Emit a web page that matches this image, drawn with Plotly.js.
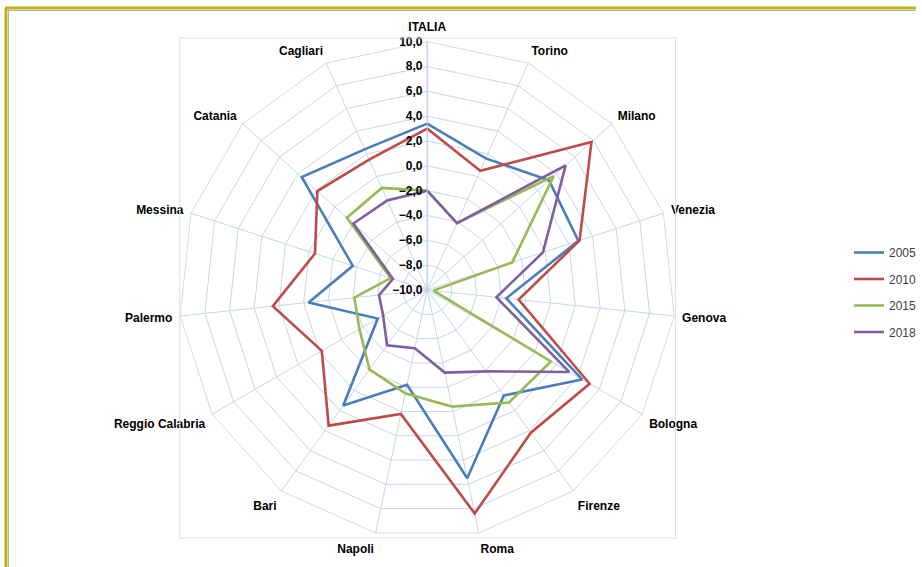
<!DOCTYPE html>
<html>
<head>
<meta charset="utf-8">
<script src="https://cdn.plot.ly/plotly-3.0.1.min.js"></script>
<style>
html,body{margin:0;padding:0;background:#fff;}
#chart{width:922px;height:567px;}
</style>
</head>
<body>
<div id="chart"></div>
<script>
const categories = ['ITALIA','Torino','Milano','Venezia','Genova','Bologna','Firenze','Roma','Napoli','Bari','Reggio Calabria','Palermo','Messina','Catania','Cagliari'];
const seriesNames = ['2005','2010','2015','2018'];
const v2005 = [3.4, 1.6, 3.2, 2.8, -3.6, 4.4, 0.5, 5.5, -2.2, 1.5, -5.4, -0.4, -3.7, 3.6, 2.4];
const v2010 = [3.0, 0.5, 7.8, 2.9, -2.6, 5.1, 4.2, 8.4, 0.2, 3.5, -0.2, 2.5, -0.5, 1.9, 1.5];
const v2015 = [-2.0, -4.1, 3.7, -2.8, -9.5, 1.5, 1.2, -0.4, -1.5, -2.1, -3.7, -4.1, -6.9, -1.3, -1.0];
const v2018 = [-2.0, -4.1, 5.0, -0.2, -4.4, 3.2, -1.9, -3.2, -5.2, -4.5, -5.9, -6.1, -7.1, -2.0, -2.1];
const radialTicks = [-10, -8, -6, -4, -2, 0, 2, 4, 6, 8, 10];

const colors = ['#4a7ebb', '#be4b48', '#98b954', '#7d60a0'];
const allValues = [v2005, v2010, v2015, v2018];

const close = a => a.concat([a[0]]);

const traces = allValues.map((vals, i) => ({
  type: 'scatterpolar',
  mode: 'lines',
  name: seriesNames[i],
  legendgroup: 'g' + i,
  r: close(vals),
  theta: close(categories),
  line: {color: colors[i], width: 2.6},
  hoverinfo: 'skip'
}));

const W = 922, H = 567;
const cx = 430, cy = 290, R = 250;

const layout = {
  width: W, height: H,
  margin: {l: 0, r: 0, t: 0, b: 0},
  paper_bgcolor: '#ffffff',
  separators: ',.',
  font: {family: 'Liberation Sans, Arial, sans-serif', color: '#000'},
  showlegend: true,
  legend: {
    x: 855 / W, y: 1 - 238 / H, xanchor: 'left', yanchor: 'top',
    font: {size: 12, color: '#404040', family: 'Liberation Sans, Arial, sans-serif'},
    tracegroupgap: 7.5,
    bgcolor: 'rgba(0,0,0,0)'
  },
  polar: {
    domain: {x: [(cx - R) / W, (cx + R) / W], y: [1 - (cy + R) / H, 1 - (cy - R) / H]},
    gridshape: 'linear',
    bgcolor: 'rgba(0,0,0,0)',
    angularaxis: {
      direction: 'clockwise',
      rotation: 90,
      categoryorder: 'array',
      categoryarray: categories,
      showline: true,
      linecolor: '#d0dae9',
      linewidth: 1,
      gridcolor: '#c6d5ea',
      gridwidth: 1,
      ticks: 'outside',
      ticklen: 5,
      tickcolor: 'rgba(0,0,0,0)',
      tickfont: {size: 12, color: '#000', family: 'Liberation Sans, Arial, sans-serif', weight: 'bold'}
    },
    radialaxis: {
      range: [-10, 10],
      angle: 90,
      side: 'counterclockwise',
      tickvals: radialTicks,
      tickformat: '.1f',
      tickangle: 90,
      showline: true,
      linecolor: '#bfd0ea',
      linewidth: 1,
      gridcolor: '#c6d5ea',
      gridwidth: 1,
      ticks: '',
      tickfont: {size: 12, color: '#000', family: 'Liberation Sans, Arial, sans-serif', weight: 'bold'}
    }
  },
  shapes: [
    {type: 'rect', xref: 'paper', yref: 'paper',
     x0: 181 / W, x1: 680 / W, y0: 1 - 538 / H, y1: 1 - 38 / H,
     line: {color: '#d9dfe8', width: 1}, fillcolor: 'rgba(0,0,0,0)'},
    {type: 'line', xref: 'paper', yref: 'paper',
     x0: 5 / W, x1: 1, y0: 1 - 8 / H, y1: 1 - 8 / H,
     line: {color: '#c3b31a', width: 3}},
    {type: 'line', xref: 'paper', yref: 'paper',
     x0: 6 / W, x1: 6 / W, y0: 0, y1: 1 - 8 / H,
     line: {color: '#c3b31a', width: 3}},
    {type: 'line', xref: 'paper', yref: 'paper',
     x0: 8 / W, x1: 1, y0: 1 - 10.5 / H, y1: 1 - 10.5 / H,
     line: {color: '#b0b0b0', width: 1}},
    {type: 'line', xref: 'paper', yref: 'paper',
     x0: 8.5 / W, x1: 8.5 / W, y0: 0, y1: 1 - 10.5 / H,
     line: {color: '#b0b0b0', width: 1}}
  ]
};

Plotly.newPlot('chart', traces, layout, {displayModeBar: false, staticPlot: true});
</script>
</body>
</html>
